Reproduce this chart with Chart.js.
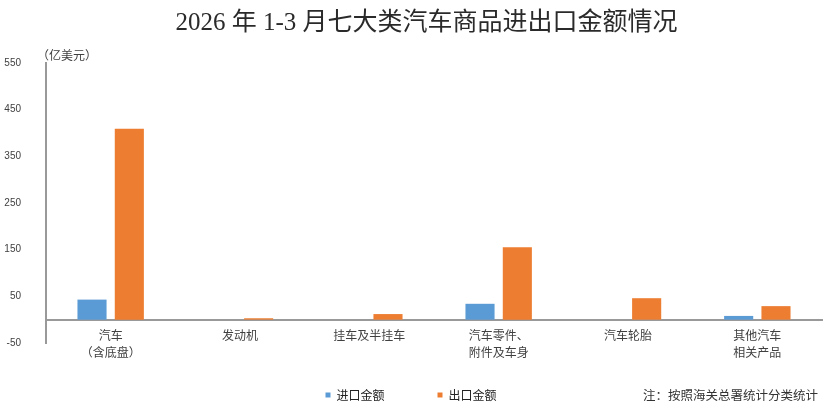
<!DOCTYPE html>
<html>
<head>
<meta charset="utf-8">
<script src="https://cdn.jsdelivr.net/npm/chart.js@4.4.1/dist/chart.umd.min.js"></script>
<style>
  html, body { margin: 0; padding: 0; background: #fff; }
  #wrap { position: relative; width: 831px; height: 413px; background: #fff; overflow: hidden; }
  #c { position: absolute; left: 0; top: 0; }
  .txt { position: absolute; white-space: nowrap; color: #333; }
  #title { left: 22px; top: 7px; width: 809px; text-align: center; font: 25px/30px "Liberation Serif", "Noto Sans CJK SC", serif; color: #2a2a2a; }
  #unit { left: 37px; top: 47px; font: 12px/15px "Noto Sans CJK SC", sans-serif; color: #404040; }
  #note { right: 13px; top: 387px; font: 12.5px/16px "Noto Sans CJK SC", sans-serif; color: #333; }
</style>
</head>
<body>
<div id="wrap">
  <canvas id="c" width="831" height="413"></canvas>
  <div class="txt" id="title">2026 年 1-3 月七大类汽车商品进出口金额情况</div>
  <div class="txt" id="unit">（亿美元）</div>
  <div class="txt" id="note">注：按照海关总署统计分类统计</div>
</div>
<script>
// ---- data ----
const categories = [['汽车', '（含底盘）'], '发动机', '挂车及半挂车', ['汽车零件、', '附件及车身'], '汽车轮胎', ['其他汽车', '相关产品']];
const importValues = [43, 0, 0, 34, 0, 8];
const exportValues = [409, 3, 12, 155, 46, 29];
const seriesNames = ['进口金额', '出口金额'];
const yTicks = [-50, 50, 150, 250, 350, 450, 550];

const axisColor = '#999999';
const labelColor = '#404040';

const legendLayout = {
  id: 'legendLayout',
  beforeInit(chart) {
    const lg = chart.legend;
    if (!lg) return;
    const origFit = lg.fit.bind(lg);
    lg.fit = function () { origFit(); this.height = 70; };
  },
  afterLayout(chart) {
    if (chart.legend) {
      chart.legend.top -= 7;
      chart.legend.bottom -= 7;
    }
  }
};

new Chart(document.getElementById('c'), {
  type: 'bar',
  data: {
    labels: categories,
    datasets: [
      { label: seriesNames[0], data: importValues, backgroundColor: '#5B9BD5', borderWidth: 0,
        barPercentage: 0.78, categoryPercentage: 0.577 },
      { label: seriesNames[1], data: exportValues, backgroundColor: '#ED7D31', borderWidth: 0,
        barPercentage: 0.78, categoryPercentage: 0.577 }
    ]
  },
  plugins: [legendLayout],
  options: {
    responsive: false,
    animation: false,
    devicePixelRatio: 1,
    layout: { padding: { top: 63, left: 0, right: 9, bottom: 0 } },
    plugins: {
      title: { display: false },
      tooltip: { enabled: false },
      legend: {
        display: true,
        position: 'bottom',
        labels: {
          boxWidth: 5,
          boxHeight: 5,
          padding: 53,
          color: '#222',
          font: { family: '"Noto Sans CJK SC", sans-serif', size: 12 }
        }
      }
    },
    scales: {
      x: {
        type: 'category',
        position: { y: 0 },
        grid: { display: false, drawTicks: false },
        border: { display: true, color: axisColor, width: 2 },
        ticks: {
          color: labelColor,
          autoSkip: false,
          maxRotation: 0,
          minRotation: 0,
          padding: 8,
          font: { family: '"Noto Sans CJK SC", sans-serif', size: 12, lineHeight: 1.35 }
        }
      },
      y: {
        min: -50,
        max: 550,
        grid: { display: false, drawTicks: false },
        border: { display: true, color: axisColor, width: 2 },
        afterBuildTicks(scale) { scale.ticks = yTicks.map(v => ({ value: v })); },
        afterFit(scale) { scale.width = 46; },
        ticks: {
          color: labelColor,
          padding: 25,
          font: { family: '"Liberation Sans", Arial, sans-serif', size: 10 },
          callback: (v) => String(v)
        }
      }
    }
  }
});
</script>
</body>
</html>
